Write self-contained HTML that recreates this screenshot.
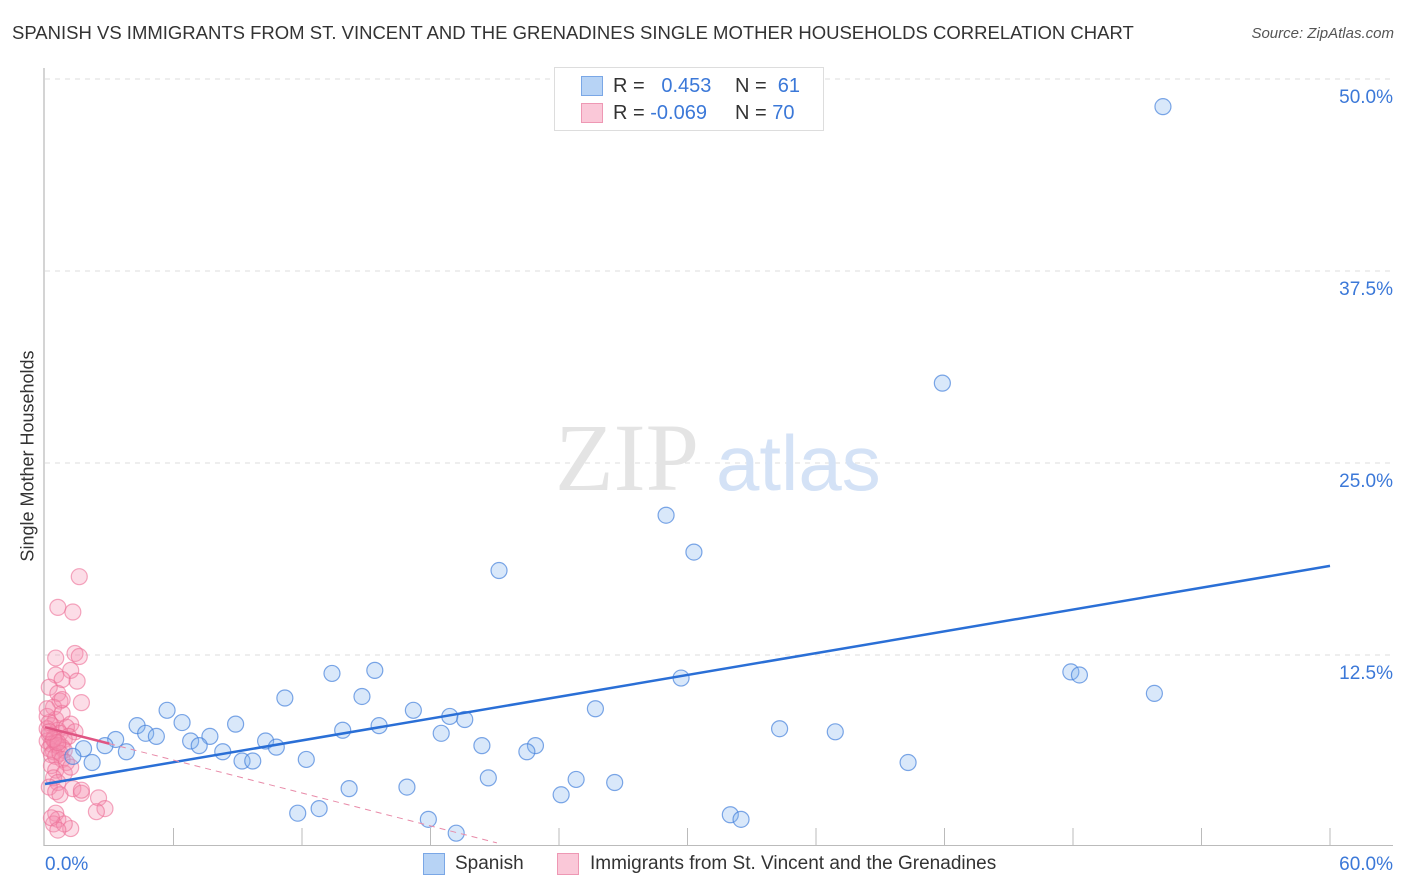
<!DOCTYPE html>
<html><head><meta charset="utf-8"><style>
body{margin:0;background:#fff;font-family:"Liberation Sans",sans-serif;}
#wrap{position:relative;width:1406px;height:892px;overflow:hidden;}
.t{position:absolute;white-space:nowrap;}
</style></head><body>
<div id="wrap">
<div class="t" style="left:12px;top:22px;font-size:18.5px;color:#333;">SPANISH VS IMMIGRANTS FROM ST. VINCENT AND THE GRENADINES SINGLE MOTHER HOUSEHOLDS CORRELATION CHART</div>
<div class="t" style="right:12px;top:25px;font-size:15px;color:#555;font-style:italic;">Source: ZipAtlas.com</div>
<div class="t" style="left:28px;top:456px;font-size:18px;color:#333;transform:translate(-50%,-50%) rotate(-90deg);">Single Mother Households</div>
<svg id="svg" width="1406" height="892" style="position:absolute;left:0;top:0"></svg>
</div>
<script>
const xTickLabels=["0.0%","60.0%"];
const yTicks=[12.5,25,37.5,50];
const yTickLabels=["12.5%","25.0%","37.5%","50.0%"];
const blueX=[52.2,41.9,29.0,30.3,21.2,29.7,47.9,48.3,51.8,15.4,13.4,11.2,14.8,5.7,6.4,8.9,17.2,18.9,19.6,15.6,13.9,25.7,34.3,36.9,18.5,4.3,4.7,5.2,3.3,6.8,7.7,7.2,2.8,1.8,3.8,8.3,10.3,10.8,9.2,9.7,12.2,20.4,22.9,22.5,2.2,1.3,40.3,20.7,24.8,26.6,14.2,16.9,24.1,11.8,12.8,17.9,19.2,32.0,32.5];
const blueY=[48.2,30.2,21.6,19.2,18.0,11.0,11.4,11.2,10.0,11.5,11.3,9.7,9.8,8.9,8.1,8.0,8.9,8.5,8.3,7.9,7.6,9.0,7.7,7.5,7.4,7.9,7.4,7.2,7.0,6.9,7.2,6.6,6.6,6.4,6.2,6.2,6.9,6.5,5.6,5.6,5.7,6.6,6.6,6.2,5.5,5.9,5.5,4.5,4.4,4.2,3.8,3.9,3.4,2.2,2.5,1.8,0.9,2.1,1.8];
const pinkX=[1.6,0.6,1.3,0.5,1.4,1.6,1.2,0.5,0.8,1.5,0.2,0.6,0.7,1.7,0.4,0.1,0.5,0.8,1.2,0.3,0.6,1.0,1.4,0.2,0.4,0.7,0.9,1.1,0.1,0.3,0.5,0.8,0.2,0.4,0.6,0.9,0.3,0.5,0.7,0.1,0.4,0.6,0.2,0.8,1.0,0.3,0.5,0.9,1.2,0.4,0.6,0.2,0.5,0.7,1.3,1.7,2.5,2.8,0.5,0.6,1.7,2.4,0.4,1.2,0.9,0.3,0.6,0.1,0.8,0.2];
const pinkY=[17.6,15.6,15.3,12.3,12.6,12.4,11.5,11.2,10.9,10.8,10.4,10.0,9.5,9.4,9.1,8.5,8.3,8.7,8.0,7.9,7.6,7.8,7.5,7.3,7.1,7.4,7.0,7.2,6.9,6.7,6.8,6.5,6.4,6.2,6.6,6.3,6.0,5.9,6.1,7.7,7.0,6.8,8.1,5.7,5.5,5.3,5.0,4.8,5.2,4.5,4.2,3.9,3.6,3.4,3.8,3.5,3.2,2.5,2.2,1.8,3.7,2.3,1.5,1.2,1.5,1.9,1.1,9.0,9.6,7.5];
const blueTrend=[4.1,18.3];
const pinkTrend=[7.8,-0.357];
const X=v=>45+v/60*1285, Y=v=>847-v/50*768;
const s=document.getElementById('svg'),NS='http://www.w3.org/2000/svg';
function mk(t,a){const e=document.createElementNS(NS,t);for(const k in a)e.setAttribute(k,a[k]);s.appendChild(e);return e;}
yTicks.forEach((v,i)=>{
 const g=mk('line',{x1:45,x2:1393,y1:Y(v),y2:Y(v),stroke:'#ddd','stroke-dasharray':'5,5'});
 
 const t=mk('text',{x:1393,y:Y(v)+24,'text-anchor':'end','font-size':19,fill:'#3b78d8','font-family':'Liberation Sans'});t.textContent=yTickLabels[i];
 
});
let ax=mk('line',{x1:44,x2:44,y1:68,y2:846,stroke:'#aaa'});
ax=mk('line',{x1:44,x2:1393,y1:845.5,y2:845.5,stroke:'#bbb'});
for(let i=1;i<=10;i++){const tk=mk('line',{x1:X(i*6),x2:X(i*6),y1:828,y2:845,stroke:'#bbb'});}
[[X(0),'start',xTickLabels[0]],[1393,'end',xTickLabels[1]]].forEach(a=>{const t=mk('text',{x:a[0],y:870,'text-anchor':a[1],'font-size':19,fill:'#3b78d8','font-family':'Liberation Sans'});t.textContent=a[2];});
let w=mk('text',{x:555,y:490,'font-size':96,fill:'#e4e4e4','font-family':'Liberation Serif'});w.textContent='ZIP';
w=mk('text',{x:716,y:490,'font-size':78,fill:'#d4e2f6','font-family':'Liberation Sans'});w.textContent='atlas';
pinkX.forEach((v,i)=>{const c=mk('circle',{cx:X(v),cy:Y(pinkY[i]),r:8,fill:'rgba(244,143,177,0.3)',stroke:'rgba(236,110,150,0.6)','stroke-width':1.2});});
blueX.forEach((v,i)=>{const c=mk('circle',{cx:X(v),cy:Y(blueY[i]),r:8,fill:'rgba(130,180,240,0.3)',stroke:'rgba(70,130,220,0.7)','stroke-width':1.2});});
let l=mk('line',{x1:X(0),y1:Y(blueTrend[0]),x2:X(60),y2:Y(blueTrend[1]),stroke:'#2a6fd6','stroke-width':2.5});
const pf=x=>pinkTrend[0]+pinkTrend[1]*x;
l=mk('line',{x1:X(3),y1:Y(pf(3)),x2:X(21.1),y2:Y(pf(21.1)),stroke:'#e88aa8','stroke-width':1,'stroke-dasharray':'6,5'});
l=mk('line',{x1:X(0),y1:Y(pf(0)),x2:X(3),y2:Y(pf(3)),stroke:'#e05583','stroke-width':2.5});
</script>
<div class="t" style="left:554px;top:67px;width:268px;height:62px;border:1px solid #ddd;background:#fff;font-size:20px;">
 <div style="position:absolute;left:26px;top:8px;width:20px;height:18px;background:#b7d3f5;border:1px solid #7aa7e6;"></div>
 <div class="t" style="left:58px;top:7px;color:#333;">R = <span style="color:#3b78d8;">&nbsp;&nbsp;0.453</span></div>
 <div class="t" style="left:180px;top:7px;color:#333;">N = <span style="color:#3b78d8;">&nbsp;61</span></div>
 <div style="position:absolute;left:26px;top:35px;width:20px;height:18px;background:#fac8d8;border:1px solid #ee98b4;"></div>
 <div class="t" style="left:58px;top:34px;color:#333;">R = <span style="color:#3b78d8;">-0.069</span></div>
 <div class="t" style="left:180px;top:34px;color:#333;">N = <span style="color:#3b78d8;">70</span></div>
</div>
<div>
 <div style="position:absolute;left:423px;top:853px;width:20px;height:20px;background:#b7d3f5;border:1px solid #7aa7e6;"></div>
 <div class="t" style="left:455px;top:853px;font-size:19px;color:#333;">Spanish</div>
 <div style="position:absolute;left:557px;top:853px;width:20px;height:20px;background:#fac8d8;border:1px solid #ee98b4;"></div>
 <div class="t" style="left:590px;top:853px;font-size:19px;color:#333;">Immigrants from St. Vincent and the Grenadines</div>
</div>
</body></html>
